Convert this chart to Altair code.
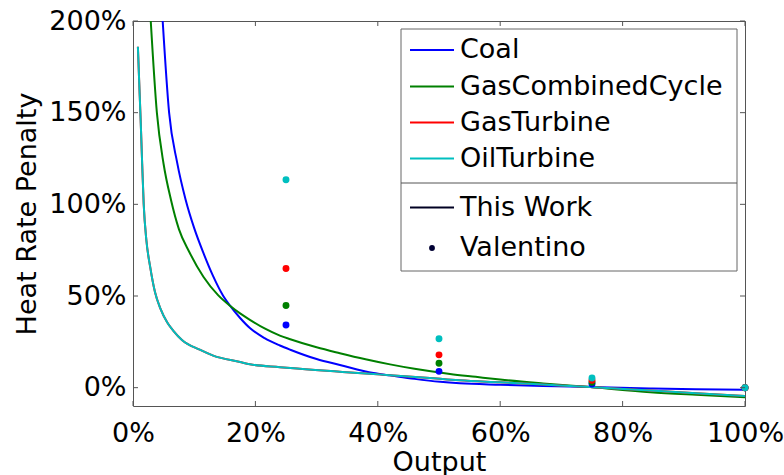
import altair as alt
import pandas as pd

# ---------------- data ----------------
series = ["Coal", "GasCombinedCycle", "GasTurbine", "OilTurbine"]
colors = ["#0000ff", "#008000", "#ff0000", "#00bfbf"]

coal_x = [4.85, 5.9, 7.2, 8.6, 10.0, 11.5, 13.0, 14.75, 15.85, 17.5, 19.1, 21.5, 24.0, 25.7,
          30.0, 33.8, 39.3, 42.0, 46.0, 50.2, 53.4, 60.0, 67.0, 74.7, 84.5, 92.0, 100.0]
coal_y = [200, 150, 123, 102.5, 87, 73.5, 61.5, 50, 44.7, 38, 32.5, 27, 23.0, 20.7,
          15.6, 12.4, 8.0, 6.7, 4.8, 3.2, 2.4, 1.6, 0.9, 0.4, -0.4, -0.9, -1.2]

gcc_x = [2.9, 3.9, 5.0, 6.2, 7.5, 9.2, 11.5, 13.9, 15.85, 17.5, 19.1, 21.5, 24.0, 25.7,
         30.0, 33.8, 38.0, 42.0, 46.0, 51.8, 56.0, 60.0, 67.0, 74.7, 84.5, 92.0, 100.0]
gcc_y = [200, 150, 122, 102.5, 86.5, 74, 60.5, 50.5, 44.7, 40.5, 37, 32.3, 28.4, 26.4,
         22.0, 18.8, 15.5, 12.7, 10.3, 7.5, 5.9, 4.4, 2.3, 0.3, -2.5, -3.9, -5.2]

turbine_x = [0.8, 1.0, 1.25, 1.5, 1.75, 2.2, 2.8, 3.6, 4.5, 5.6, 6.6, 8.0, 10.9, 13.1, 17.5,
             19.1, 24.0, 25.7, 33.8, 39.3, 42.0, 50.2, 53.4, 60.0, 67.0, 74.7, 84.5, 92.0, 100.0]
gas_turbine_y = [186, 168, 146, 122, 100, 80, 66, 52, 43, 35.5, 31, 26, 20.7, 17.5, 14,
                 12.8, 11.2, 10.7, 8.7, 7.4, 6.8, 4.8, 4.0, 2.9, 1.7, 0.4, -1.6, -3.0, -4.5]
oil_turbine_y = [186, 168, 146, 122, 100, 80, 66, 52, 43, 35.5, 31, 26, 20.7, 17.5, 14,
                 12.8, 11.2, 10.7, 8.7, 7.4, 6.8, 4.8, 4.0, 2.9, 1.7, 0.4, -1.6, -3.0, -4.5]

valentino_x = [25, 50, 75, 100]
valentino_coal = [34.2, 8.9, 2.0, 0.0]
valentino_gcc = [44.8, 13.3, 3.0, 0.0]
valentino_gas_turbine = [65.0, 17.9, 4.0, 0.0]
valentino_oil_turbine = [113.4, 26.7, 5.3, 0.0]

x_ticks = [0, 20, 40, 60, 80, 100]
y_ticks = [0, 50, 100, 150, 200]

# ---------------- layout / style ----------------
W, H = 612, 385
FONT = "DejaVu Sans"
FRAME = "#555555"

x_scale = alt.Scale(domain=[0, 100], nice=False, zero=False)
y_scale = alt.Scale(domain=[-10, 200], nice=False, zero=False)
color_scale = alt.Scale(domain=series, range=colors)

x_axis = alt.Axis(values=x_ticks, labelExpr="datum.value + '%'", ticks=False, domain=False,
                  grid=False, labelFont=FONT, labelFontSize=27, labelColor="black",
                  labelPadding=14, labelFlush=False, labelOverlap=False,
                  title="Output", titleFont=FONT, titleFontSize=27, titleFontWeight="normal",
                  titleColor="black", titleBaseline="alphabetic", titleY=64, titleX=W / 2)
y_axis = alt.Axis(values=y_ticks, labelExpr="datum.value + '%'", ticks=False, domain=False,
                  grid=False, labelFont=FONT, labelFontSize=27, labelColor="black",
                  labelPadding=7, labelFlush=False, labelOverlap=False,
                  title="Heat Rate Penalty", titleFont=FONT, titleFontSize=27,
                  titleFontWeight="normal", titleColor="black", titleBaseline="alphabetic",
                  titleX=-98, titleY=H / 2, titleAngle=270)


def line_df(name, xs, ys):
    return pd.DataFrame({"output": xs, "penalty": ys, "series": name})


line_sets = [
    ("Coal", coal_x, coal_y),
    ("GasCombinedCycle", gcc_x, gcc_y),
    ("GasTurbine", turbine_x, gas_turbine_y),
    ("OilTurbine", turbine_x, oil_turbine_y),
]

layers = []
for i, (name, xs, ys) in enumerate(line_sets):
    enc = dict(
        x=alt.X("output:Q", scale=x_scale, axis=x_axis if i == 0 else alt.Undefined),
        y=alt.Y("penalty:Q", scale=y_scale, axis=y_axis if i == 0 else alt.Undefined),
        color=alt.Color("series:N", scale=color_scale, legend=None),
    )
    layers.append(alt.Chart(line_df(name, xs, ys)).mark_line(
        strokeWidth=2, clip=True, interpolate="monotone").encode(**enc))

val_sets = [
    ("Coal", valentino_coal),
    ("GasCombinedCycle", valentino_gcc),
    ("GasTurbine", valentino_gas_turbine),
    ("OilTurbine", valentino_oil_turbine),
]
for name, ys in val_sets:
    layers.append(
        alt.Chart(line_df(name, valentino_x, ys)).mark_circle(size=48, opacity=1).encode(
            x=alt.X("output:Q", scale=x_scale),
            y=alt.Y("penalty:Q", scale=y_scale),
            color=alt.Color("series:N", scale=color_scale, legend=None),
        )
    )

# inward ticks on all four sides (matlab-style box)
xt = pd.DataFrame({"output": x_ticks})
yt = pd.DataFrame({"penalty": y_ticks})
TL = 5
layers.append(alt.Chart(xt).mark_rule(color=FRAME, strokeWidth=1).encode(
    x=alt.X("output:Q", scale=x_scale), y=alt.value(H), y2=alt.value(H - TL)))
layers.append(alt.Chart(xt).mark_rule(color=FRAME, strokeWidth=1).encode(
    x=alt.X("output:Q", scale=x_scale), y=alt.value(0), y2=alt.value(TL)))
layers.append(alt.Chart(yt).mark_rule(color=FRAME, strokeWidth=1).encode(
    y=alt.Y("penalty:Q", scale=y_scale), x=alt.value(0), x2=alt.value(TL)))
layers.append(alt.Chart(yt).mark_rule(color=FRAME, strokeWidth=1).encode(
    y=alt.Y("penalty:Q", scale=y_scale), x=alt.value(W), x2=alt.value(W - TL)))

# ---------------- hand-built legend box ----------------
one = alt.Data(values=[{"k": 1}])
LX0, LX1, LY0, LY1, LSEP = 268, 604, 8, 250, 162
layers.append(alt.Chart(one).mark_rect(fill="white", stroke="#666666", strokeWidth=1).encode(
    x=alt.value(LX0), x2=alt.value(LX1), y=alt.value(LY0), y2=alt.value(LY1)))
layers.append(alt.Chart(one).mark_rule(color="#555555", strokeWidth=1).encode(
    x=alt.value(LX0), x2=alt.value(LX1), y=alt.value(LSEP)))

entry_y = [29, 65.5, 101.5, 137.5]
for name, col, yy in zip(series, colors, entry_y):
    layers.append(alt.Chart(one).mark_rule(color=col, strokeWidth=2).encode(
        x=alt.value(277), x2=alt.value(321), y=alt.value(yy)))
    layers.append(alt.Chart(one).mark_text(align="left", baseline="middle", font=FONT,
                                           fontSize=27, color="black", text=name).encode(
        x=alt.value(327), y=alt.value(yy)))

layers.append(alt.Chart(one).mark_rule(color="#000022", strokeWidth=2).encode(
    x=alt.value(277), x2=alt.value(321), y=alt.value(186.5)))
layers.append(alt.Chart(one).mark_text(align="left", baseline="middle", font=FONT,
                                       fontSize=27, color="black", text="This Work").encode(
    x=alt.value(327), y=alt.value(186.5)))
layers.append(alt.Chart(one).mark_circle(size=34, opacity=1, color="#000033").encode(
    x=alt.value(299), y=alt.value(227)))
layers.append(alt.Chart(one).mark_text(align="left", baseline="middle", font=FONT,
                                       fontSize=27, color="black", text="Valentino").encode(
    x=alt.value(327), y=alt.value(227)))

chart = alt.layer(*layers).properties(
    width=W, height=H,
    padding={"left": 133, "top": 21, "right": 39, "bottom": 69},
    autosize=alt.AutoSizeParams(type="none"),
    background="white",
).configure_view(stroke=FRAME, strokeWidth=1)

chart.save("out.html", embed_options={"renderer": "svg", "actions": False})
